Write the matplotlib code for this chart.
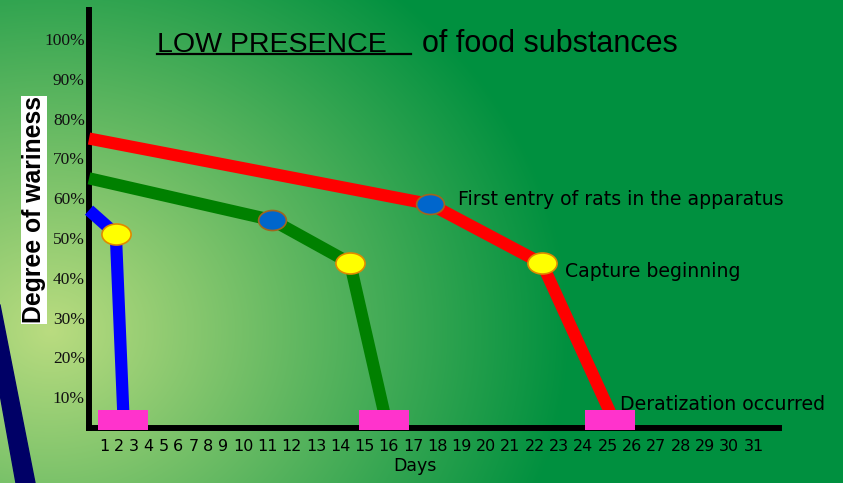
import numpy as np
import matplotlib
matplotlib.use('Agg')
import matplotlib.pyplot as plt
from matplotlib.path import Path
from matplotlib.transforms import Affine2D
from matplotlib.patches import Polygon
from matplotlib.lines import Line2D

# data (x in days, y in % wariness)
days = list(range(1, 32))
pct_ticks = list(range(10, 101, 10))

red_days = [0, 17.7, 22.3, 25.1]
red_vals = [75, 58.5, 43.6, 6.2]
green_days = [0, 11.2, 14.4, 15.8]
green_vals = [65, 54.5, 43.7, 6.2]
blue_days = [0, 1.8, 2.3]
blue_vals = [57, 51, 6.2]
derat_level = 4.3

W, H = 843, 483


def fx(px):
    return px / W


def fy(py):
    return 1 - py / H


# the day labels in the original are a plain text row, so single digits sit closer
def fwd(d):
    d = np.asarray(d, float)
    return np.where(d < 9, d * 14.9,
                    np.where(d < 10, 134.1 + (d - 9) * 20.0, 154.1 + (d - 10) * 24.3))


def inv(p):
    p = np.asarray(p, float)
    return np.where(p < 134.1, p / 14.9,
                    np.where(p < 154.1, 9 + (p - 134.1) / 20.0, 10 + (p - 154.1) / 24.3))


fig = plt.figure(figsize=(W / 100, H / 100), dpi=100)

# background gradient
bg = fig.add_axes([0, 0, 1, 1], zorder=-5)
yy, xx = np.mgrid[0:H, 0:W]
dist = np.hypot(xx - 50, (yy - 330) * 1.15)
t = np.clip(dist / 520, 0, 1)[..., None]
light = np.array([186, 220, 128]) / 255
dark = np.array([0, 144, 63]) / 255
bg.imshow(light * (1 - t) + dark * t, aspect='auto', extent=(0, W, H, 0))
bg.add_patch(Polygon([(-16, 305), (0, 305), (35, 483), (16, 483)], closed=True,
                     color='#000066'))
bg.set_xlim(0, W)
bg.set_ylim(H, 0)
bg.axis('off')

ax = fig.add_axes([fx(89), fy(428), fx(779) - fx(89), fy(10) - fy(428)])
ax.patch.set_alpha(0)
ax.set_xscale('function', functions=(fwd, inv))
ax.set_xlim(0, 32.05)
ax.set_ylim(2.26, 107.3)

lw = 8.8
ax.plot(red_days, red_vals, color='#ff0000', lw=lw, solid_capstyle='butt',
        solid_joinstyle='round', clip_on=False, zorder=3)
ax.plot(green_days, green_vals, color='#008000', lw=lw, solid_capstyle='butt',
        solid_joinstyle='round', clip_on=False, zorder=3)
ax.plot(blue_days, blue_vals, color='#0000ff', lw=lw, solid_capstyle='butt',
        solid_joinstyle='round', clip_on=False, zorder=3)

ellipse = Path.unit_circle().transformed(Affine2D().scale(1, 0.72))
rect = Path([(-1, -0.4), (1, -0.4), (1, 0.4), (-1, 0.4), (-1, -0.4)], closed=True)

ax.plot([green_days[1], red_days[1]], [green_vals[1], red_vals[1]], ls='none',
        marker=ellipse, ms=20, mfc='#0066cc', mec='#a0661e', mew=1.2, zorder=5)
ax.plot([blue_days[1], green_days[2], red_days[2]],
        [blue_vals[1], green_vals[2], red_vals[2]], ls='none',
        marker=ellipse, ms=21, mfc='#ffff00', mec='#e08a00', mew=1.2, zorder=5)
ax.plot([blue_days[-1], green_days[-1], red_days[-1]], [derat_level] * 3, ls='none',
        marker=rect, ms=36, mfc='#ff33cc', mec='#ff33cc', mew=0, zorder=4,
        clip_on=False)

note_font = dict(family='DejaVu Sans', fontsize=13.6, color='black')
ax.annotate('First entry of rats in the apparatus', (red_days[1], red_vals[1]),
            xytext=(28, 5), textcoords='offset pixels', ha='left', va='center',
            **note_font)
ax.annotate('Capture beginning', (red_days[2], red_vals[2]),
            xytext=(23, -8), textcoords='offset pixels', ha='left', va='center',
            **note_font)
ax.annotate('Deratization occurred', (red_days[-1], derat_level),
            xytext=(10, 15), textcoords='offset pixels', ha='left', va='center',
            **note_font)

for s in ['top', 'right']:
    ax.spines[s].set_visible(False)
for s in ['left', 'bottom']:
    ax.spines[s].set_linewidth(4.3)
    ax.spines[s].set_color('black')
    ax.spines[s].set_zorder(2)

ax.set_xticks(days)
ax.set_xticklabels([str(d) for d in days], family='DejaVu Sans', fontsize=11.5)
ax.set_yticks(pct_ticks)
ax.set_yticklabels([f'{p}%' for p in pct_ticks], family='Liberation Serif',
                   fontsize=12.5, color='#111111')
ax.tick_params(axis='x', length=0, pad=8)
ax.tick_params(axis='y', length=0, pad=3)
ax.minorticks_off()

ax.set_xlabel('Days', family='DejaVu Sans', fontsize=12.5)
ax.xaxis.set_label_coords((415 - 89) / 690, -0.07)

fig.text(fx(34), fy(210), 'Degree of wariness', rotation=90, ha='center', va='center',
         family='Liberation Sans', fontweight='bold', fontsize=17.8,
         bbox=dict(facecolor='white', edgecolor='none', pad=0.8))

fig.text(fx(157), fy(52), 'LOW PRESENCE', ha='left', va='baseline',
         family='Liberation Sans', fontsize=20.5)
fig.text(fx(422), fy(52), 'of food substances', ha='left', va='baseline',
         family='Liberation Sans', fontsize=22)
fig.add_artist(Line2D([fx(157), fx(411)], [fy(54), fy(54)], color='black', lw=1.6))

fig.savefig('out.png', dpi=100)
